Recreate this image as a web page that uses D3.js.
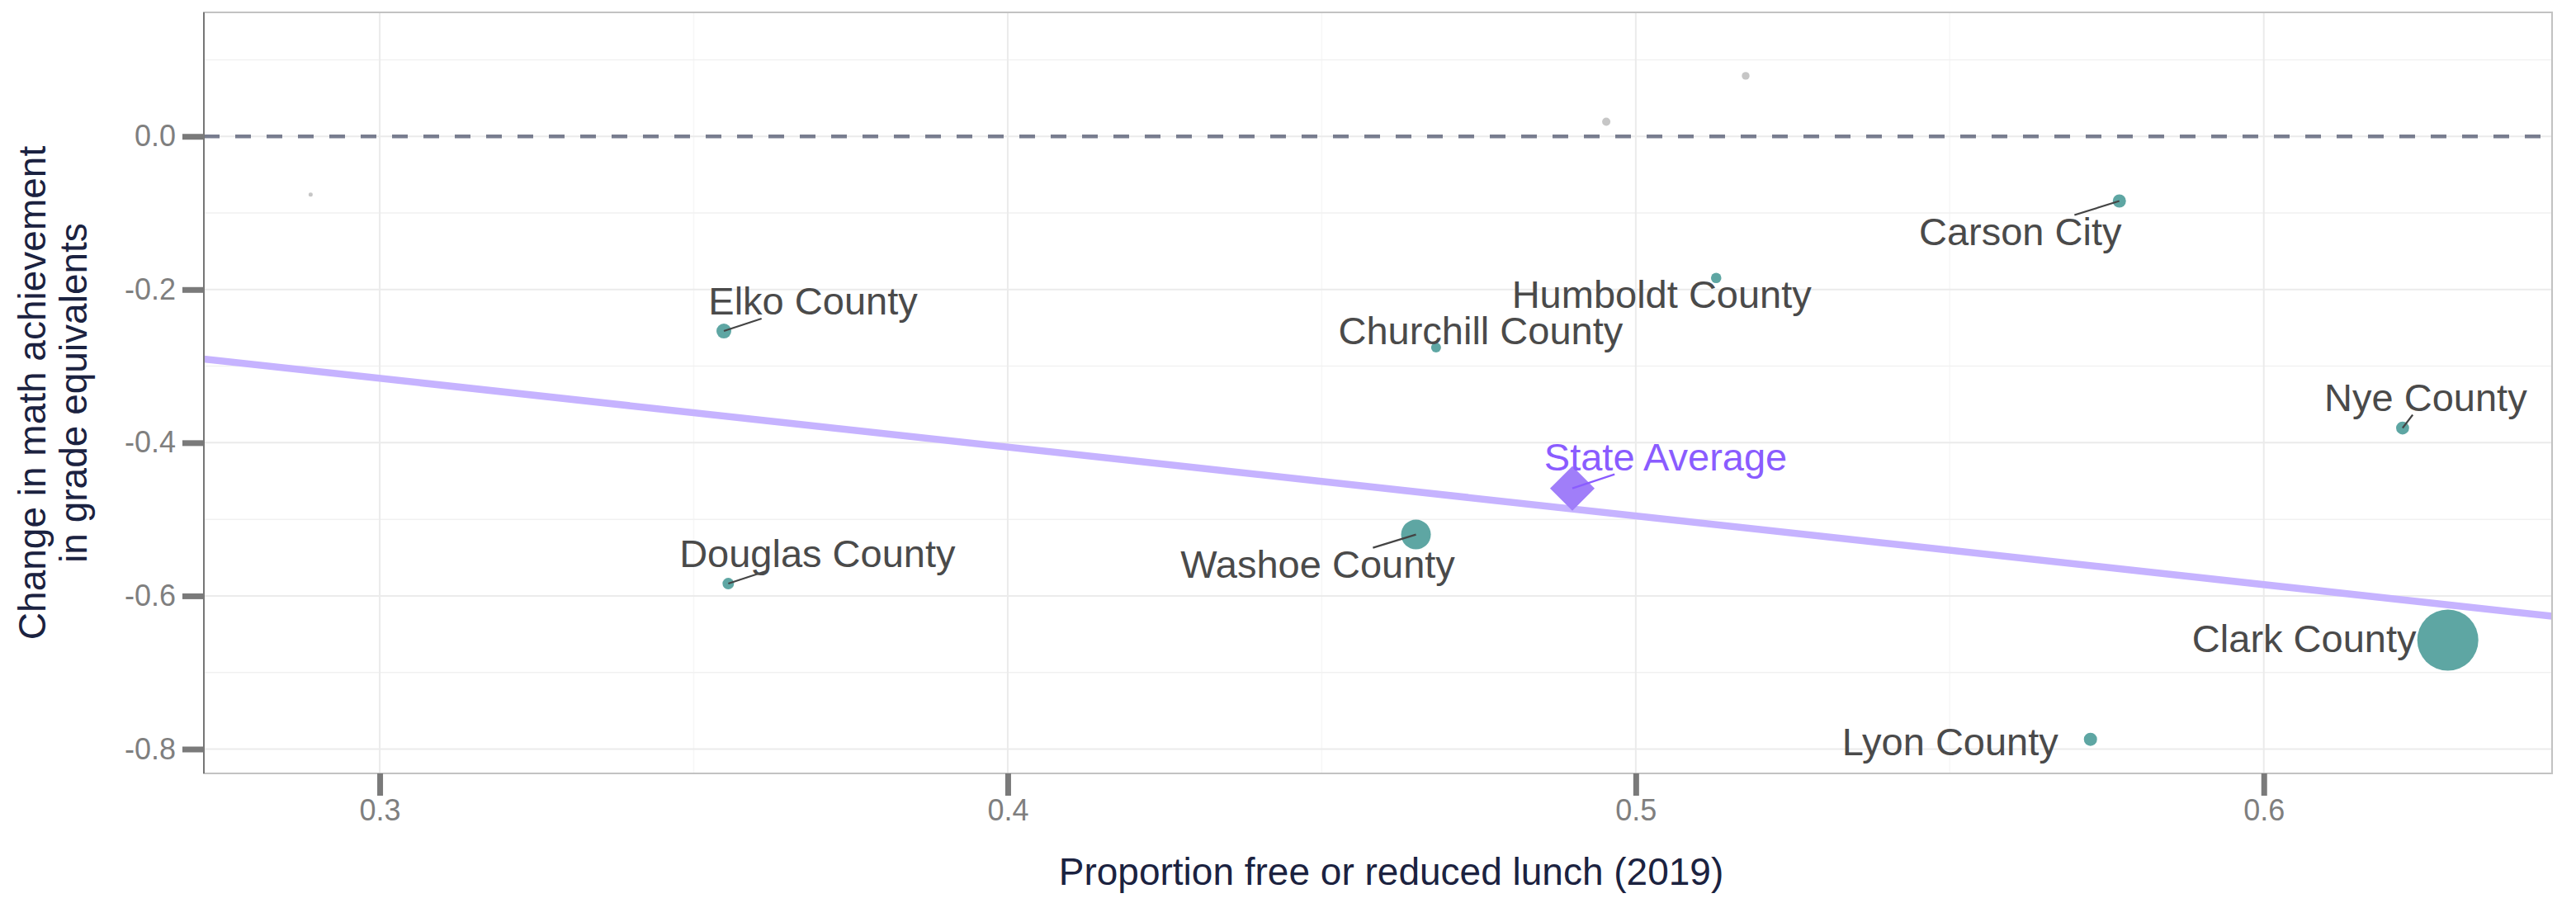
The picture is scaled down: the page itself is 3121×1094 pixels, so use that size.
<!DOCTYPE html>
<html>
<head>
<meta charset="utf-8">
<script src="https://cdn.jsdelivr.net/npm/d3@7"></script>
<style>
  body { margin: 0; background: #fff; }
  #plotDiv { width: 3121px; height: 1094px; }
  text { font-family: "Liberation Sans", Arial, Helvetica, sans-serif; }
</style>
</head>
<body>
<div id="plotDiv"></div>
<script>
// labelled districts
var counties = ["Carson City", "Churchill County", "Clark County", "Douglas County", "Elko County",
                "Humboldt County", "Lyon County", "Nye County", "Washoe County"];
var frl = [0.577, 0.4682, 0.6293, 0.3555, 0.3548, 0.5128, 0.5724, 0.6221, 0.465];
var mathChange = [-0.0844, -0.2757, -0.6577, -0.584, -0.2542, -0.1849, -0.7873, -0.3808, -0.5199];
var enrollment = [9400, 4200, 320000, 6500, 12800, 4800, 9400, 9000, 67000];

// small unlabelled districts (grey)
var otherFrl = [0.289, 0.4953, 0.5175];
var otherChange = [-0.0761, 0.019, 0.079];
var otherEnrollment = [65, 2350, 1900];

// state average + fitted line
var stateFrl = 0.4899;
var stateChange = -0.4596;
var trendFrl = [0.272, 0.6459];
var trendChange = [-0.2908, -0.6265];

var xTicks = [0.3, 0.4, 0.5, 0.6];
var xMinor = [0.35, 0.45, 0.55];
var yTicks = [0, -0.2, -0.4, -0.6, -0.8];
var yMinor = [0.1, -0.1, -0.3, -0.5, -0.7];

// label placement (pixel offset of label centre / baseline from its point)
var labelNudge = {
    "Carson City": [-120, 53, true],
    "Churchill County": [54, -4, false],
    "Clark County": [-174, 15, false],
    "Douglas County": [108, -20, true],
    "Elko County": [108, -20, true],
    "Humboldt County": [-66, 36, false],
    "Lyon County": [-170, 19, false],
    "Nye County": [28, -21, true],
    "Washoe County": [-119, 52, true],
    "State Average": [113, -22, true]
};

window.addEventListener("load", makeChart)

function makeChart() {
    var W = 3121, H = 1094;
    var margin = {top: 15, right: 29, bottom: 157, left: 247};
    var w = W - margin.left - margin.right;
    var h = H - margin.top - margin.bottom;

    var svg = d3.select('#plotDiv')
        .append('svg')
        .attr('width', W)
        .attr('height', H);

    var g = svg.append('g')
        .attr('transform', 'translate(' + margin.left + ',' + margin.top + ')');

    var x = d3.scaleLinear().domain([0.272, 0.6459]).range([0, w]);
    var y = d3.scaleLinear().domain([-0.8318, 0.1619]).range([h, 0]);
    var r = d3.scaleSqrt().domain([0, d3.max(enrollment)]).range([2, 37]);

    // grid
    var grid = g.append('g').attr('id', 'grid');
    grid.selectAll('.xminor').data(xMinor).enter().append('line')
        .attr('x1', d => x(d)).attr('x2', d => x(d)).attr('y1', 0).attr('y2', h)
        .attr('stroke', '#f6f6f6').attr('stroke-width', 1.5);
    grid.selectAll('.yminor').data(yMinor).enter().append('line')
        .attr('y1', d => y(d)).attr('y2', d => y(d)).attr('x1', 0).attr('x2', w)
        .attr('stroke', '#f1f1f1').attr('stroke-width', 1.5);
    grid.selectAll('.xmajor').data(xTicks).enter().append('line')
        .attr('x1', d => x(d)).attr('x2', d => x(d)).attr('y1', 0).attr('y2', h)
        .attr('stroke', '#ebebeb').attr('stroke-width', 2);
    grid.selectAll('.ymajor').data(yTicks).enter().append('line')
        .attr('y1', d => y(d)).attr('y2', d => y(d)).attr('x1', 0).attr('x2', w)
        .attr('stroke', '#ebebeb').attr('stroke-width', 2);

    // zero reference
    g.append('line')
        .attr('x1', 0).attr('x2', w)
        .attr('y1', y(0)).attr('y2', y(0))
        .attr('stroke', '#787d8f')
        .attr('stroke-width', 4.5)
        .attr('stroke-dasharray', '19,19');

    // fitted line
    g.append('path')
        .datum(d3.zip(trendFrl, trendChange))
        .attr('d', d3.line().x(d => x(d[0])).y(d => y(d[1])))
        .attr('stroke', '#c6b3ff')
        .attr('stroke-width', 8.5)
        .attr('fill', 'none');

    // grey districts
    g.append('g').selectAll('circle')
        .data(d3.range(otherFrl.length)).enter().append('circle')
        .attr('cx', i => x(otherFrl[i]))
        .attr('cy', i => y(otherChange[i]))
        .attr('r', i => r(otherEnrollment[i]))
        .attr('fill', '#c6c6c6');

    // labelled districts
    var pts = counties.map(function(name, i) {
        return {name: name, px: x(frl[i]), py: y(mathChange[i]), r: r(enrollment[i])};
    });

    g.append('g').selectAll('circle')
        .data(pts).enter().append('circle')
        .attr('cx', d => d.px)
        .attr('cy', d => d.py)
        .attr('r', d => d.r)
        .attr('fill', '#5ea6a3');

    // state average diamond
    var sx = x(stateFrl), sy = y(stateChange);
    g.append('path')
        .attr('d', d3.symbol().type(d3.symbolSquare).size(1460)())
        .attr('transform', 'translate(' + sx + ',' + sy + ') rotate(45)')
        .attr('fill', '#a07ef9');

    // labels
    var labels = pts.map(d => ({name: d.name, px: d.px, py: d.py, color: '#4a4a4a', segColor: '#444'}));
    labels.push({name: 'State Average', px: sx, py: sy, color: '#8a5cff', segColor: '#8a5cff'});

    var segs = g.append('g');
    var txts = g.append('g');

    labels.forEach(function(d) {
        var nud = labelNudge[d.name];
        var cx = d.px + nud[0], by = d.py + nud[1];
        var t = txts.append('text')
            .attr('x', cx).attr('y', by)
            .attr('text-anchor', 'middle')
            .attr('font-size', 47)
            .attr('fill', d.color)
            .text(d.name);
        if (!nud[2]) return;
        var tw = t.node().getComputedTextLength();
        var x0 = cx - tw / 2 - 2, x1 = cx + tw / 2 + 2;
        var y0 = by - 36, y1 = by + 5;
        var dx = cx - d.px, dy = (by - 15.5) - d.py;
        var tx = dx > 0 ? (x0 - d.px) / dx : (x1 - d.px) / dx;
        var ty = dy > 0 ? (y0 - d.py) / dy : (y1 - d.py) / dy;
        var tt = Math.max(tx, ty, 0);
        segs.append('line')
            .attr('x1', d.px).attr('y1', d.py)
            .attr('x2', d.px + tt * dx).attr('y2', d.py + tt * dy)
            .attr('stroke', d.segColor)
            .attr('stroke-width', 2.2);
    });

    // panel border
    g.append('rect')
        .attr('width', w).attr('height', h)
        .attr('fill', 'none')
        .attr('stroke', '#c2c2c2')
        .attr('stroke-width', 2);
    g.append('line')
        .attr('x1', 0).attr('x2', 0).attr('y1', 0).attr('y2', h)
        .attr('stroke', '#5c5c5c').attr('stroke-width', 1.5);

    // axes
    var fmt = d => d.toFixed(1);
    var yAxis = g.append('g')
        .call(d3.axisLeft(y).tickValues(yTicks).tickSize(26).tickPadding(8).tickFormat(fmt));
    var xAxis = g.append('g')
        .attr('transform', 'translate(0,' + h + ')')
        .call(d3.axisBottom(x).tickValues(xTicks).tickSize(27).tickPadding(4).tickFormat(fmt));
    [xAxis, yAxis].forEach(function(a) {
        a.select('.domain').remove();
        a.selectAll('.tick line').attr('stroke', '#7a7a7a').attr('stroke-width', 7);
        a.selectAll('.tick text')
            .attr('fill', '#7f7f7f')
            .attr('font-size', 36)
            .attr('font-family', '"Liberation Sans", Arial, sans-serif');
    });

    // axis titles
    svg.append('text')
        .attr('x', margin.left + w / 2 + 16)
        .attr('y', 1072)
        .attr('text-anchor', 'middle')
        .attr('font-size', 46)
        .attr('fill', '#1b2240')
        .text('Proportion free or reduced lunch (2019)');

    var yt = svg.append('text')
        .attr('transform', 'translate(0,' + (margin.top + h / 2) + ') rotate(-90)')
        .attr('text-anchor', 'middle')
        .attr('font-size', 46)
        .attr('fill', '#1b2240');
    yt.append('tspan').attr('x', 0).attr('y', 55).text('Change in math achievement');
    yt.append('tspan').attr('x', 0).attr('y', 105).text('in grade equivalents');
}
</script>
</body>
</html>
